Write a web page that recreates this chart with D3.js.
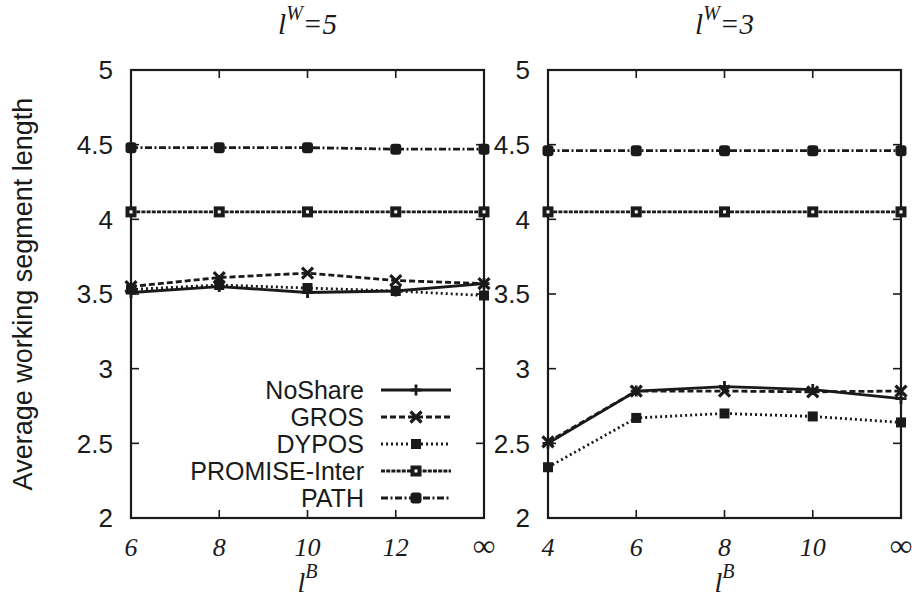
<!DOCTYPE html>
<html><head><meta charset="utf-8">
<script src="https://cdn.jsdelivr.net/npm/d3@7"></script>
<style>body{margin:0;background:#fff}</style>
</head><body>
<svg id="c" width="912" height="599"></svg>
<script>
const seriesNames = ["NoShare","GROS","DYPOS","PROMISE-Inter","PATH"];
const yTicks = [2, 2.5, 3, 3.5, 4, 4.5, 5];
const yTickLabels = ["2","2.5","3","3.5","4","4.5","5"];

const leftCats = ["6","8","10","12","∞"];
const leftNoShare = [3.51, 3.55, 3.51, 3.52, 3.57];
const leftGROS    = [3.55, 3.61, 3.64, 3.59, 3.57];
const leftDYPOS   = [3.53, 3.56, 3.54, 3.52, 3.49];
const leftPROMISE = [4.05, 4.05, 4.05, 4.05, 4.05];
const leftPATH    = [4.48, 4.48, 4.48, 4.47, 4.47];

const rightCats = ["4","6","8","10","∞"];
const rightNoShare = [2.50, 2.85, 2.88, 2.86, 2.80];
const rightGROS    = [2.51, 2.85, 2.85, 2.845, 2.85];
const rightDYPOS   = [2.34, 2.67, 2.70, 2.68, 2.64];
const rightPROMISE = [4.05, 4.05, 4.05, 4.05, 4.05];
const rightPATH    = [4.46, 4.46, 4.46, 4.46, 4.46];

const styles = [
  {dash:null, marker:"plus"},
  {dash:"6,3", marker:"cross"},
  {dash:"2,3", marker:"fsquare"},
  {dash:"4,1.2", marker:"osquare"},
  {dash:"7,2.5,2,2.5", marker:"circle"}
];

const svg = d3.select("#c");
const plotTop = 70, plotBottom = 518;
const y = d3.scaleLinear().domain([2,5]).range([plotBottom, plotTop]);
const ink = "#1a1a1a";

function drawMarker(g, type, cx, cy){
  const s = 5.5;
  if(type==="plus"){
    g.append("path").attr("d",`M${cx-s},${cy}H${cx+s}M${cx},${cy-s}V${cy+s}`).attr("stroke",ink).attr("stroke-width",2.8);
  } else if(type==="cross"){
    g.append("path").attr("d",`M${cx-s},${cy-s}L${cx+s},${cy+s}M${cx-s},${cy+s}L${cx+s},${cy-s}`).attr("stroke",ink).attr("stroke-width",3.2);
  } else if(type==="fsquare"){
    g.append("rect").attr("x",cx-5).attr("y",cy-5).attr("width",10).attr("height",10).attr("fill",ink);
  } else if(type==="osquare"){
    g.append("rect").attr("x",cx-5.5).attr("y",cy-5.5).attr("width",11).attr("height",11).attr("fill",ink);
    g.append("rect").attr("x",cx-1.5).attr("y",cy-1.5).attr("width",3).attr("height",3).attr("fill","#fff");
  } else if(type==="circle"){
    g.append("rect").attr("x",cx-5.5).attr("y",cy-5.5).attr("width",11).attr("height",11).attr("rx",3).attr("fill",ink);
  }
}

function panel(x0, x1, cats, data, title, labelRight){
  const x = d3.scalePoint().domain(cats).range([x0, x1]).padding(0);
  const g = svg.append("g");
  g.append("rect").attr("x",x0).attr("y",plotTop).attr("width",x1-x0).attr("height",plotBottom-plotTop)
    .attr("fill","none").attr("stroke",ink).attr("stroke-width",2.2);
  yTicks.forEach((t,i)=>{
    if(i>0 && i<yTicks.length-1){
      g.append("line").attr("x1",x0).attr("x2",x0+8).attr("y1",y(t)).attr("y2",y(t)).attr("stroke",ink).attr("stroke-width",1.6);
      g.append("line").attr("x1",x1).attr("x2",x1-8).attr("y1",y(t)).attr("y2",y(t)).attr("stroke",ink).attr("stroke-width",1.6);
    }
    g.append("text").attr("x",labelRight).attr("y",y(t)).attr("dy","0.36em")
      .attr("text-anchor","end").attr("font-family","Liberation Sans, Arial, sans-serif")
      .attr("font-size",26).attr("fill",ink).text(yTickLabels[i]);
  });
  cats.forEach((c,i)=>{
    if(i>0 && i<cats.length-1){
      g.append("line").attr("x1",x(c)).attr("x2",x(c)).attr("y1",plotBottom).attr("y2",plotBottom-8).attr("stroke",ink).attr("stroke-width",1.6);
      g.append("line").attr("x1",x(c)).attr("x2",x(c)).attr("y1",plotTop).attr("y2",plotTop+8).attr("stroke",ink).attr("stroke-width",1.6);
    }
    g.append("text").attr("x",x(c)).attr("y",556).attr("text-anchor","middle")
      .attr("font-family","Liberation Serif, Times New Roman, serif").attr("font-style","italic")
      .attr("font-size",c==="∞"?31:26).attr("fill",ink).text(c);
  });
  const line = d3.line().x((d,i)=>x(cats[i])).y(d=>y(d));
  data.forEach((vals,k)=>{
    const st = styles[k];
    g.append("path").attr("d",line(vals)).attr("fill","none").attr("stroke",ink)
      .attr("stroke-width",2.8).attr("stroke-dasharray",st.dash);
    vals.forEach((v,i)=>drawMarker(g, st.marker, x(cats[i]), y(v)));
  });
  const cx = (x0+x1)/2;
  const t = g.append("text").attr("x",cx).attr("y",34).attr("text-anchor","middle")
    .attr("font-family","Liberation Serif, Times New Roman, serif").attr("font-style","italic")
    .attr("font-size",29).attr("fill",ink);
  t.append("tspan").text("l");
  t.append("tspan").attr("dy",-14).attr("font-size",20).text("W");
  t.append("tspan").attr("dy",14).text("="+title);
  const xt = g.append("text").attr("x",cx).attr("y",592).attr("text-anchor","middle")
    .attr("font-family","Liberation Serif, Times New Roman, serif").attr("font-style","italic")
    .attr("font-size",28).attr("fill",ink);
  xt.append("tspan").text("l");
  xt.append("tspan").attr("dy",-14).attr("font-size",20).text("B");
  return x;
}

panel(131, 484, leftCats, [leftNoShare,leftGROS,leftDYPOS,leftPROMISE,leftPATH], "5", 113);
panel(548, 901, rightCats, [rightNoShare,rightGROS,rightDYPOS,rightPROMISE,rightPATH], "3", 530);

svg.append("text").attr("transform","translate(32,294) rotate(-90)").attr("text-anchor","middle")
  .attr("font-family","Liberation Sans, Arial, sans-serif").attr("font-size",27).attr("fill",ink)
  .text("Average working segment length");

const lg = svg.append("g");
seriesNames.forEach((n,i)=>{
  const yy = 390 + 27*i;
  lg.append("text").attr("x",364).attr("y",yy).attr("dy","0.36em").attr("text-anchor","end")
    .attr("font-family","Liberation Sans, Arial, sans-serif").attr("font-size",25).attr("fill",ink).text(n);
  lg.append("line").attr("x1",381).attr("x2",451).attr("y1",yy).attr("y2",yy).attr("stroke",ink)
    .attr("stroke-width",2.8).attr("stroke-dasharray",styles[i].dash);
  drawMarker(lg, styles[i].marker, 416, yy);
});
</script>
</body></html>
